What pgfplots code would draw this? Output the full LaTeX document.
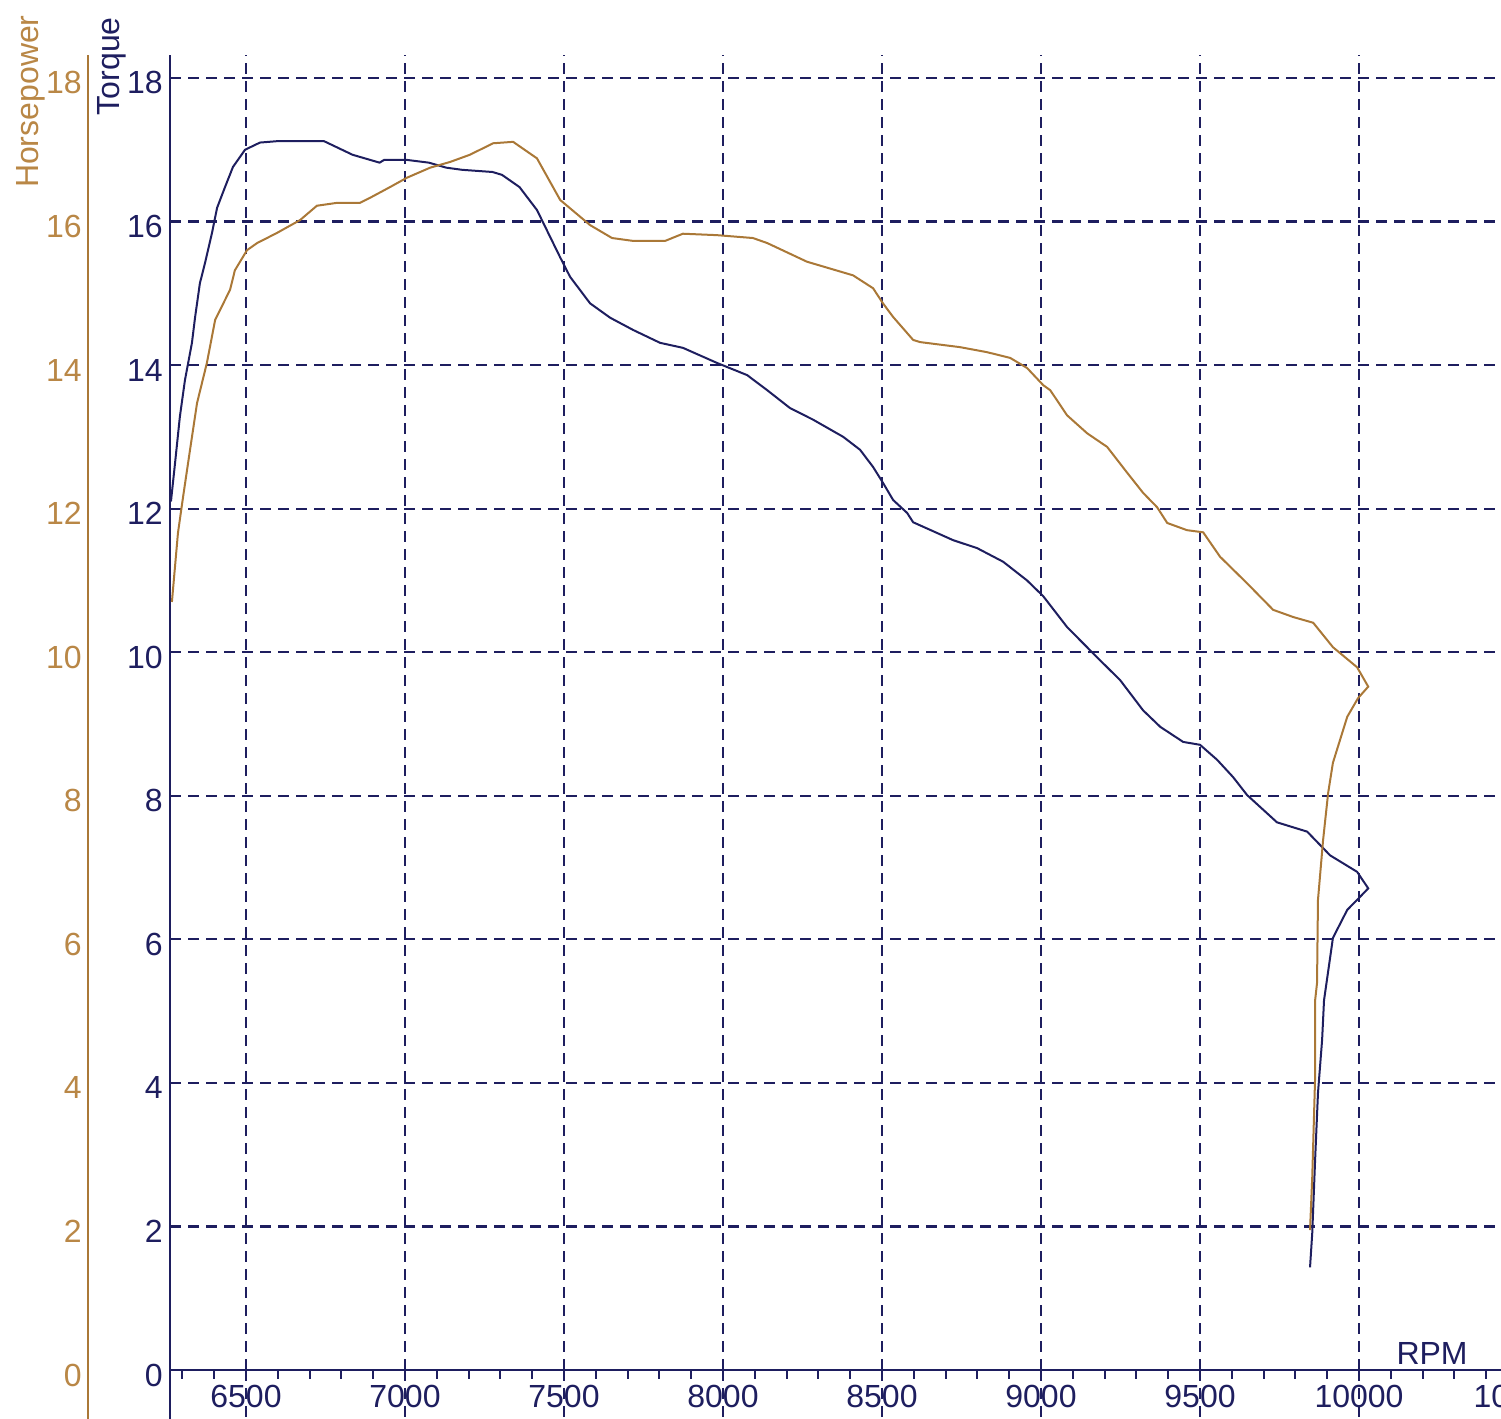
\documentclass[border=0pt]{standalone}
\usepackage{fontspec}
\setmainfont{Liberation Sans}
\usepackage{pgfplots}
\pgfplotsset{compat=1.18}
\definecolor{tq}{RGB}{30,30,95}
\definecolor{hp}{RGB}{170,120,55}
\definecolor{hplab}{RGB}{185,135,70}
\begin{document}
\begin{tikzpicture}[x=1pt,y=1pt,font=\fontsize{16}{19}\selectfont]
% Horsepower axis (same scale as torque)
\begin{axis}[
  at={(44pt,0pt)}, anchor=south west, scale only axis,
  width=10pt, height=682pt,
  xmin=0, xmax=1, ymin=-0.6826, ymax=18.32,
  axis x line=none, axis y line*=left,
  y axis line style={hp, line width=1.3pt, -},
  ytick={0,2,...,18}, major tick length=0pt,
  ytick style={draw=none},
  yticklabel style={text=hplab, inner sep=0pt, xshift=-3pt, yshift=-2.5pt},
  /pgf/number format/assume math mode=true,
]
\end{axis}
% Main axis
\begin{axis}[
  at={(85pt,24.5pt)}, anchor=south west, scale only axis,
  width=674pt, height=657.5pt,
  xmin=6261, xmax=10500, ymin=0, ymax=18.32,
  axis x line=bottom, axis y line=left,
  axis line style={tq, line width=1.3pt, -},
  xtick={6500,7000,...,10500},
  minor xtick={6300,6400,...,10400},
  ytick={0,2,...,18},
  scaled x ticks=false,
  grid=major,
  major grid style={tq, line width=1.1pt, dash pattern=on 5.5pt off 3.5pt},
  xtick align=outside, ytick align=inside,
  major tick length=4.5pt, minor tick length=4.5pt,
  every tick/.style={tq, line width=1pt},
  xticklabel style={text=tq, inner sep=0pt, yshift=-3pt},
  yticklabel style={text=tq, inner sep=0pt, xshift=-3.5pt, yshift=-2.5pt},
  /pgf/number format/assume math mode=true,
  /pgf/number format/set thousands separator={},
  clip=false,
]
\addplot[tq, line width=1pt] table {
x y
6264 12.1
6277 12.64
6292 13.28
6308 13.79
6330 14.31
6340 14.67
6355 15.14
6371 15.42
6393 15.84
6409 16.19
6434 16.48
6459 16.76
6497 17.0
6544 17.1
6600 17.12
6745 17.12
6835 16.93
6920 16.82
6935 16.86
7003 16.86
7075 16.82
7130 16.75
7180 16.72
7275 16.69
7305 16.65
7360 16.48
7415 16.16
7488 15.5
7519 15.23
7582 14.86
7645 14.66
7717 14.49
7802 14.31
7874 14.24
7981 14.03
8076 13.86
8139 13.65
8211 13.4
8283 13.24
8378 13.0
8431 12.82
8472 12.58
8503 12.36
8535 12.12
8579 11.94
8598 11.81
8724 11.56
8799 11.45
8881 11.26
8956 11.0
9007 10.78
9082 10.35
9176 9.93
9249 9.61
9321 9.19
9375 8.96
9447 8.75
9500 8.71
9554 8.5
9604 8.26
9648 8.01
9742 7.63
9837 7.5
9909 7.17
9994 6.94
10029 6.71
10003 6.59
9963 6.41
9918 6.02
9890 5.15
9884 4.6
9871 3.86
9862 2.93
9853 1.91
9846 1.43
};
\addplot[hp, line width=1pt] table {
x y
6267 10.7
6286 11.66
6302 12.16
6324 12.82
6346 13.47
6377 14.03
6403 14.63
6450 15.05
6465 15.32
6503 15.6
6535 15.7
6597 15.84
6670 16.02
6723 16.22
6786 16.26
6858 16.26
6890 16.33
6953 16.48
7006 16.61
7079 16.75
7142 16.83
7204 16.93
7277 17.09
7340 17.11
7415 16.88
7488 16.3
7582 15.95
7651 15.77
7717 15.73
7818 15.73
7874 15.83
7981 15.81
8094 15.77
8139 15.7
8264 15.44
8409 15.25
8472 15.07
8503 14.86
8535 14.67
8598 14.35
8620 14.32
8745 14.25
8830 14.18
8903 14.1
8956 13.96
9007 13.72
9029 13.65
9082 13.3
9145 13.05
9208 12.86
9271 12.5
9321 12.22
9365 12.02
9397 11.8
9459 11.7
9510 11.67
9563 11.33
9648 10.96
9730 10.59
9793 10.49
9856 10.41
9918 10.07
9994 9.79
10029 9.52
9997 9.36
9963 9.1
9918 8.46
9903 8.04
9887 7.38
9871 6.55
9868 5.39
9862 5.15
9862 4.08
9853 2.69
9846 1.95
};
\draw[tq, line width=1.3pt] (axis cs:6261,0) -- (axis cs:6261,-0.6826);
\pgfplotsinvokeforeach{6500,7000,...,10000}{
  \draw[tq, line width=1.1pt, dash pattern=on 5.5pt off 3.5pt] (axis cs:#1,0) -- (axis cs:#1,-0.6826);
}
\end{axis}
\node[tq, anchor=base east, inner sep=0pt] at (734pt,27pt) {RPM};
\node[tq, rotate=90, anchor=east, inner sep=0pt] at (56pt,701pt) {Torque};
\node[hplab, rotate=90, anchor=east, inner sep=0pt] at (15.5pt,702pt) {Horsepower};
\pgfresetboundingbox
\path[use as bounding box] (0,0) rectangle (750.5pt,709.5pt);
\end{tikzpicture}
\end{document}
